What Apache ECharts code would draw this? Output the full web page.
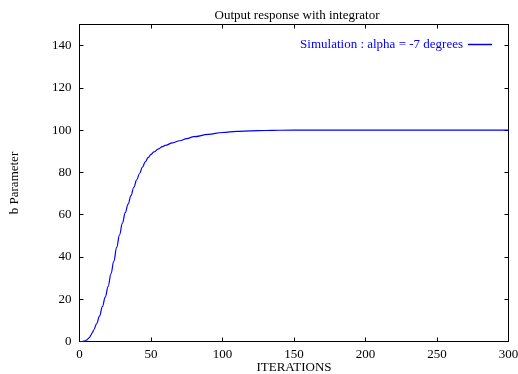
<!DOCTYPE html>
<html>
<head>
<meta charset="utf-8">
<script src="https://cdn.jsdelivr.net/npm/echarts@6/dist/echarts.min.js"></script>
<style>
  html, body { margin: 0; padding: 0; background: #fff; }
  #chart { width: 518px; height: 374px; }
</style>
</head>
<body>
<div id="chart"></div>
<script>
// data
const iterations = [0, 2, 4, 5, 6, 7, 8, 9, 10, 12, 14, 16, 18, 20, 22, 24, 26, 28, 30, 32, 34, 36, 38, 40, 42, 44, 46, 48, 50, 52, 55, 58, 60, 65, 70, 75, 80, 90, 100, 110, 120, 130, 140, 160, 200, 250, 300]
const bParam = [0, 0, 0.3, 0.7, 1.3, 2, 3, 4.2, 5.5, 8.5, 12, 16.5, 21, 26, 32, 38, 44.5, 50.5, 56, 61, 65, 69, 73, 76.5, 79.5, 82.5, 85, 87, 88.5, 89.7, 91, 92.2, 92.8, 94, 95, 96, 96.9, 98, 98.9, 99.4, 99.7, 99.85, 99.95, 100, 100, 100, 100]
const seriesName = 'Simulation : alpha = -7 degrees'

const font = 'Liberation Serif'
const chart = echarts.init(document.getElementById('chart'))

const axisCommon = {
  axisLine: { show: true, onZero: false, lineStyle: { color: '#000', width: 1 } },
  axisTick: { show: true, inside: true, length: 4, lineStyle: { color: '#000' } },
  splitLine: { show: false }
}

chart.setOption({
  animation: false,
  backgroundColor: '#fff',
  textStyle: { fontFamily: font },
  title: {
    text: 'Output response with integrator',
    left: 292, top: 4, textAlign: 'center',
    textStyle: { fontFamily: font, fontSize: 13, fontWeight: 'normal', color: '#000' }
  },
  legend: {
    right: 21, top: 33,
    align: 'right',
    icon: 'rect',
    itemWidth: 24, itemHeight: 1.5,
    textStyle: { fontFamily: font, fontSize: 13, color: '#0000ff' },
    data: [seriesName]
  },
  grid: { left: 79.5, right: 9.5, top: 24.5, bottom: 32.5, outerBoundsMode: 'none', containLabel: false },
  xAxis: [
    Object.assign({
      type: 'value', min: 0, max: 300, interval: 50,
      position: 'bottom',
      name: 'ITERATIONS', nameLocation: 'middle', nameGap: 20, nameMoveOverlap: false,
      nameTextStyle: { fontFamily: font, fontSize: 13, color: '#000' },
      axisLabel: { margin: 7, fontFamily: font, fontSize: 13, color: '#000' }
    }, axisCommon),
    Object.assign({
      type: 'value', min: 0, max: 300, interval: 50,
      position: 'top',
      axisLabel: { show: false }
    }, axisCommon)
  ],
  yAxis: [
    Object.assign({
      type: 'value', min: 0, max: 150, interval: 20,
      position: 'left',
      name: 'b Parameter', nameLocation: 'middle', nameGap: 58, nameMoveOverlap: false,
      nameTextStyle: { fontFamily: font, fontSize: 13, color: '#000' },
      axisLabel: { margin: 8, fontFamily: font, fontSize: 13, color: '#000', showMaxLabel: false }
    }, axisCommon),
    Object.assign({
      type: 'value', min: 0, max: 150, interval: 20,
      position: 'right',
      axisLabel: { show: false }
    }, axisCommon)
  ],
  series: [{
    name: seriesName,
    type: 'line',
    smooth: 0.4,
    smoothMonotone: 'x',
    showSymbol: false,
    data: iterations.map((x, i) => [x, bParam[i]]),
    lineStyle: { color: '#0000ff', width: 1.2 },
    itemStyle: { color: '#0000ff' }
  }]
})
</script>
</body>
</html>
